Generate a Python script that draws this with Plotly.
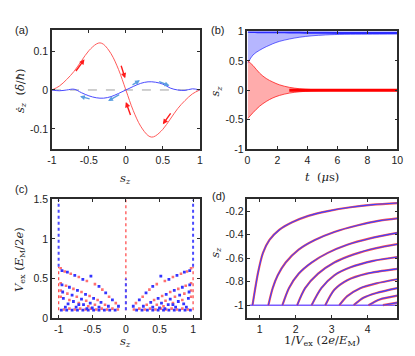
import plotly.graph_objects as go

# ---------------- panel (a): s_z-dot vs s_z ----------------
a_s = [-1, -0.9, -0.8, -0.7, -0.6, -0.5, -0.4, -0.35, -0.3, -0.2, -0.1, 0,
       0.1, 0.2, 0.3, 0.35, 0.4, 0.5, 0.6, 0.7, 0.8, 0.9, 1]
a_red = [0, 0.010, 0.027, 0.048, 0.075, 0.101, 0.118, 0.121, 0.117, 0.093, 0.053, 0,
         -0.053, -0.093, -0.117, -0.121, -0.118, -0.101, -0.075, -0.048, -0.027, -0.010, 0]
a_s_blue = [-1, -0.9, -0.8, -0.7, -0.6, -0.5, -0.4, -0.3, -0.2, -0.1, 0,
            0.1, 0.2, 0.3, 0.4, 0.5, 0.6, 0.7, 0.8, 0.9, 1]
a_blue = [0, -0.002, 0.0, 0.002, -0.007, -0.015, -0.020, -0.021, -0.017, -0.009, 0,
          0.009, 0.017, 0.021, 0.020, 0.015, 0.005, 0.0, -0.001, 0.003, 0]

# arrows: (tail s, tail y, head s, head y)
a_red_arrows = [(-0.69, 0.045, -0.56, 0.079), (-0.07, 0.066, -0.01, 0.030),
                (0.07, -0.068, 0.0, -0.031), (0.62, -0.056, 0.50, -0.088)]
a_blue_arrows = [(0.07, 0.011, 0.19, 0.025), (0.43, 0.023, 0.59, 0.011),
                 (-0.47, -0.024, -0.62, -0.016), (-0.07, -0.010, -0.24, -0.028)]

# ---------------- panel (b): s_z vs t, oscillation envelopes ----------------
b_t = [0.02, 0.37, 0.81, 1.25, 1.69, 2.13, 2.79, 3.45, 4.3, 5.2, 6.5, 8.0, 10]
b_red_up = [0.50, 0.42, 0.29, 0.20, 0.14, 0.093, 0.05, 0.027, 0.012, 0.007, 0.006, 0.006, 0.006]
b_red_lo = [-0.48, -0.38, -0.27, -0.19, -0.13, -0.088, -0.048, -0.026, -0.012, -0.007, -0.006, -0.006, -0.006]
b_blue_up = [1.0, 0.995, 0.99, 0.99, 0.99, 0.99, 0.985, 0.985, 0.98, 0.98, 0.978, 0.977, 0.976]
b_blue_lo = [0.46, 0.60, 0.68, 0.74, 0.79, 0.83, 0.87, 0.90, 0.925, 0.94, 0.95, 0.953, 0.955]

# ---------------- panel (c): final s_z vs V_ex (left half; right half is its mirror) ----------------
c_blue_s = [-0.95, -0.87, -0.76, -0.64, -0.52, -0.40, -0.30, -0.20, -0.11,
            -0.95, -0.84, -0.72, -0.60, -0.48, -0.37, -0.26,
            -0.94, -0.80, -0.66, -0.53, -0.40,
            -0.93, -0.78, -0.63, -0.50,
            -0.96, -0.88, -0.80, -0.72, -0.64, -0.56, -0.48, -0.40, -0.32, -0.24, -0.16,
            -0.90, -0.74, -0.58, -0.86, -0.70]
c_blue_v = [0.60, 0.58, 0.54, 0.49, 0.53, 0.40, 0.32, 0.23, 0.15,
            0.42, 0.39, 0.35, 0.30, 0.25, 0.20, 0.15,
            0.33, 0.29, 0.24, 0.19, 0.14,
            0.25, 0.21, 0.17, 0.13,
            0.10, 0.10, 0.10, 0.10, 0.10, 0.10, 0.10, 0.10, 0.10, 0.10, 0.10,
            0.14, 0.14, 0.12, 0.18, 0.17]
c_red_s = [-0.97, -0.91, -0.82, -0.70, -0.58, -0.46, -0.35, -0.25, -0.15,
           -0.97, -0.89, -0.78, -0.66, -0.54, -0.42, -0.31,
           -0.97, -0.87, -0.73, -0.59, -0.46,
           -0.97, -0.84, -0.70, -0.56,
           -0.92, -0.84, -0.76, -0.68, -0.60, -0.52, -0.44, -0.36, -0.28, -0.20, -0.12]
c_red_v = [0.63, 0.59, 0.56, 0.52, 0.47, 0.43, 0.36, 0.27, 0.19,
           0.44, 0.41, 0.37, 0.33, 0.28, 0.23, 0.17,
           0.35, 0.31, 0.27, 0.22, 0.17,
           0.27, 0.23, 0.19, 0.15,
           0.11, 0.12, 0.11, 0.12, 0.11, 0.12, 0.11, 0.12, 0.11, 0.12, 0.11]
# dense vertical columns of points: (s, V from, V to)
c_blue_cols = [(-1, 0.65, 1.5), (1, 0.65, 1.5), (0, 0.1, 0.5)]
c_red_cols = [(-1, 0.1, 0.65), (1, 0.1, 0.65), (0, 0.1, 1.5)]

# ---------------- panel (d): s_z vs 1/V_ex branches ----------------
d_x = [
    [0.80, 0.955, 1.09, 1.27, 1.54, 1.90, 2.35, 2.89, 3.52, 4.15, 4.82],
    [1.24, 1.36, 1.50, 1.72, 2.08, 2.53, 3.07, 3.70, 4.33, 4.82],
    [1.63, 1.81, 2.08, 2.44, 2.89, 3.43, 4.06, 4.82],
    [2.04, 2.26, 2.62, 3.07, 3.61, 4.24, 4.82],
    [2.44, 2.71, 3.07, 3.52, 4.15, 4.82],
    [2.82, 3.07, 3.43, 3.97, 4.82],
    [3.21, 3.43, 3.79, 4.24, 4.82],
    [3.61, 3.88, 4.24, 4.82],
    [4.02, 4.33, 4.82],
    [4.42, 4.82],
]
d_y = [
    [-1, -0.72, -0.555, -0.445, -0.36, -0.295, -0.24, -0.20, -0.167, -0.145, -0.131],
    [-1, -0.855, -0.746, -0.637, -0.527, -0.445, -0.377, -0.322, -0.281, -0.262],
    [-1, -0.855, -0.732, -0.637, -0.555, -0.486, -0.432, -0.385],
    [-1, -0.855, -0.732, -0.637, -0.568, -0.514, -0.481],
    [-1, -0.855, -0.746, -0.678, -0.623, -0.590],
    [-1, -0.869, -0.787, -0.732, -0.691],
    [-1, -0.923, -0.855, -0.814, -0.779],
    [-1, -0.937, -0.896, -0.855],
    [-1, -0.951, -0.918],
    [-1, -0.978],
]
d_base_x = [0.72, 4.82]
d_base_y = [-1, -1]

BLUE = '#2b2bff'
LBLUE = '#5b9ee0'
AXC = '#2b2b2b'
# the page body has an 8 px margin, so the figure is the window minus that,
# and the layout positions below are measured in window pixels
OFF = 8
W, H = 415 - OFF, 356 - OFF


def dom_x(x0, x1):
    return [(x0 - OFF) / W, (x1 - OFF) / W]


def dom_y(top, bottom):
    return [1 - (bottom - OFF) / H, 1 - (top - OFF) / H]


def px(x, y):
    return (x - OFF) / W, 1 - (y - OFF) / H


fig = go.Figure()

# panel (a)
fig.add_trace(go.Scatter(x=[-1, 1], y=[0, 0], mode='lines', xaxis='x', yaxis='y',
                         line=dict(color='#a0a0a0', width=1, dash='dash')))
fig.add_trace(go.Scatter(x=a_s, y=a_red, mode='lines', xaxis='x', yaxis='y',
                         line=dict(color='#ff5a5a', width=1, shape='spline')))
fig.add_trace(go.Scatter(x=a_s_blue, y=a_blue, mode='lines', xaxis='x', yaxis='y',
                         line=dict(color='#4a4aff', width=1, shape='spline')))

# panel (b)
fig.add_trace(go.Scatter(x=b_t, y=b_blue_lo, mode='lines', xaxis='x2', yaxis='y2',
                         line=dict(color='rgba(40,40,255,0.7)', width=1, shape='spline')))
fig.add_trace(go.Scatter(x=b_t, y=b_blue_up, mode='lines', xaxis='x2', yaxis='y2',
                         fill='tonexty', fillcolor='rgba(80,80,255,0.42)',
                         line=dict(color=BLUE, width=2.5, shape='spline')))
fig.add_trace(go.Scatter(x=b_t, y=b_red_lo, mode='lines', xaxis='x2', yaxis='y2',
                         line=dict(color='rgba(255,30,30,0.8)', width=1, shape='spline')))
fig.add_trace(go.Scatter(x=b_t, y=b_red_up, mode='lines', xaxis='x2', yaxis='y2',
                         fill='tonexty', fillcolor='rgba(255,70,70,0.45)',
                         line=dict(color='rgba(255,30,30,0.8)', width=1, shape='spline')))
fig.add_trace(go.Scatter(x=[b_t[6], b_t[-1]], y=[0, 0], mode='lines', xaxis='x2', yaxis='y2',
                         line=dict(color='#ff0000', width=3)))

# panel (c)
for s, v0, v1 in c_red_cols:
    fig.add_trace(go.Scatter(x=[s, s], y=[v0, v1], mode='lines', xaxis='x3', yaxis='y3',
                             line=dict(color='#ff5050', width=1.3, dash='dot')))
for s, v0, v1 in c_blue_cols:
    fig.add_trace(go.Scatter(x=[s, s], y=[v0, v1], mode='lines', xaxis='x3', yaxis='y3',
                             line=dict(color='#4a4aff', width=2, dash='dot')))
# the pattern is symmetric about s_z = 0
fig.add_trace(go.Scatter(x=c_red_s + [-s for s in c_red_s], y=c_red_v + c_red_v,
                         mode='markers', xaxis='x3', yaxis='y3',
                         marker=dict(symbol='square', size=2.6, color='#ff7070', line_width=0)))
fig.add_trace(go.Scatter(x=c_blue_s + [-s for s in c_blue_s], y=c_blue_v + c_blue_v,
                         mode='markers', xaxis='x3', yaxis='y3',
                         marker=dict(symbol='square', size=2.8, color='#3434ff', line_width=0)))

# panel (d)
fig.add_trace(go.Scatter(x=d_base_x, y=d_base_y, mode='lines', xaxis='x4', yaxis='y4',
                         line=dict(color='#7a5cff', width=1.5)))
for xs, ys in zip(d_x, d_y):
    fig.add_trace(go.Scatter(x=xs, y=ys, mode='lines', xaxis='x4', yaxis='y4',
                             line=dict(color='#ff5050', width=2.2, shape='spline', smoothing=0.8)))
    fig.add_trace(go.Scatter(x=xs, y=ys, mode='lines', xaxis='x4', yaxis='y4',
                             line=dict(color='#4040ff', width=1.1, shape='spline', smoothing=0.8)))

tickfont = dict(family='Liberation Sans, Arial', size=10.5, color='#222')
ax_common = dict(showline=True, linecolor=AXC, linewidth=1.6, mirror='ticks', ticks='inside',
                 ticklen=3, tickcolor=AXC, showgrid=False, zeroline=False, tickfont=tickfont)

fig.update_layout(
    width=W, height=H, autosize=False, showlegend=False,
    margin=dict(l=0, r=0, t=0, b=0),
    paper_bgcolor='white', plot_bgcolor='white',
    xaxis=dict(ax_common, domain=dom_x(48, 200), range=[-1, 1], anchor='y',
               tickvals=[-1, -0.5, 0, 0.5, 1], ticktext=['-1', '-0.5', '0', '0.5', '1']),
    yaxis=dict(ax_common, domain=dom_y(25, 148), range=[-0.152, 0.153], anchor='x',
               tickvals=[-0.1, 0, 0.1], ticktext=['-0.1', '0', '0.1']),
    xaxis2=dict(ax_common, domain=dom_x(249, 403), range=[0, 10], anchor='y2',
                tickvals=[0, 2, 4, 6, 8, 10]),
    yaxis2=dict(ax_common, domain=dom_y(26, 148), range=[-1, 1], anchor='x2',
                tickvals=[-1, -0.5, 0, 0.5, 1], ticktext=['-1', '-0.5', '0', '0.5', '1']),
    xaxis3=dict(ax_common, domain=dom_x(48, 200), range=[-1.1, 1.1], anchor='y3',
                tickvals=[-1, -0.5, 0, 0.5, 1], ticktext=['-1', '-0.5', '0', '0.5', '1']),
    yaxis3=dict(ax_common, domain=dom_y(200, 323), range=[0, 1.5], anchor='x3',
                tickvals=[0, 0.5, 1, 1.5], ticktext=['0', '0.5', '1', '1.5']),
    xaxis4=dict(ax_common, domain=dom_x(249, 403), range=[0.66, 4.82], anchor='y4',
                tickvals=[1, 2, 3, 4]),
    yaxis4=dict(ax_common, domain=dom_y(200, 323), range=[-1.11, -0.1], anchor='x4',
                tickvals=[-1, -0.8, -0.6, -0.4, -0.2],
                ticktext=['-1', '-0.8', '-0.6', '-0.4', '-0.2']),
)

for tx, ty, hx, hy in a_red_arrows:
    fig.add_annotation(x=hx, y=hy, ax=tx, ay=ty, xref='x', yref='y', axref='x', ayref='y',
                       showarrow=True, arrowhead=2, arrowsize=0.75, arrowwidth=1.4,
                       arrowcolor='#ff1a1a', text='')
for tx, ty, hx, hy in a_blue_arrows:
    fig.add_annotation(x=hx, y=hy, ax=tx, ay=ty, xref='x', yref='y', axref='x', ayref='y',
                       showarrow=True, arrowhead=2, arrowsize=0.7, arrowwidth=1.4,
                       arrowcolor=LBLUE, text='')

serif = dict(family='DejaVu Serif, Liberation Serif', size=11.5, color='#222')
labels = [
    ('(a)', 17, 25), ('(b)', 218, 25), ('(c)', 17, 189), ('(d)', 219, 196),
]
for txt, lx, ly in labels:
    x, y = px(lx, ly)
    fig.add_annotation(text=txt, x=x, y=y, xref='paper', yref='paper',
                       xanchor='center', yanchor='middle', showarrow=False,
                       font=dict(family='Liberation Sans, Arial', size=11, color='#222'))

titles = [
    ('<i>s</i><sub><i>z</i></sub>', 124, 178, 0),
    ('<i>t</i>  (<i>μ</i>s)', 326, 177, 0),
    ('<i>s</i><sub><i>z</i></sub>', 124, 347, 0),
    ('1/<i>V</i><sub>ex</sub> (2<i>e</i>/<i>E</i><sub>M</sub>)', 326, 346, 0),
    ('<i>ṡ</i><sub><i>z</i></sub>  (<i>δ</i>/<i>ħ</i>)', 15, 87, -90),
    ('<i>s</i><sub><i>z</i></sub>', 216, 88, -90),
    ('<i>V</i><sub>ex</sub> (<i>E</i><sub>M</sub>/2<i>e</i>)', 14, 262, -90),
    ('<i>s</i><sub><i>z</i></sub>', 216, 255, -90),
]
for txt, tx, ty, ang in titles:
    x, y = px(tx, ty)
    fig.add_annotation(text=txt, x=x, y=y, xref='paper', yref='paper',
                       xanchor='center', yanchor='middle', showarrow=False,
                       textangle=ang, font=serif)

fig.write_html("out.html")
